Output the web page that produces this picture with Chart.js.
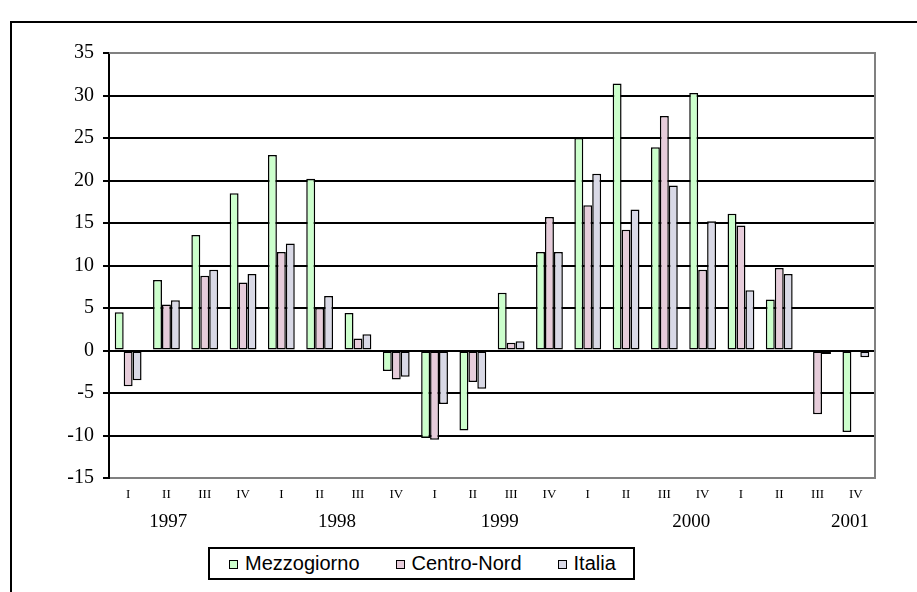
<!DOCTYPE html>
<html>
<head>
<meta charset="utf-8">
<script src="https://cdn.jsdelivr.net/npm/chart.js@4"></script>
<style>
    html, body { margin: 0; padding: 0; background: #fff; overflow: hidden; }
    #wrap { position: relative; width: 917px; height: 592px; }
    #frame {
        position: absolute; left: 10px; top: 21px; width: 1000px; height: 700px;
        border: 2px solid #000; box-sizing: border-box;
    }
    canvas { position: absolute; left: 0; top: 0; }
    #legend {
        position: absolute; left: 208px; top: 547px; width: 427px; height: 33px;
        border: 2px solid #000; box-sizing: border-box; background: #fff;
        font-family: "Liberation Sans", Arial, sans-serif; font-size: 20px; color: #000;
        display: flex; align-items: center; padding-left: 19px;
    }
    .item { display: flex; align-items: center; margin-right: 36px; }
    .item:last-child { margin-right: 0; }
    .swatch { width: 7px; height: 7px; border: 1.5px solid #000; margin-right: 7px; margin-top: 2px; }
</style>
</head>
<body>
<div id="wrap">
    <div id="frame"></div>
    <canvas id="chart" width="917" height="592"></canvas>
    <div id="legend"></div>
</div>
<script>
// quarters 1997 I .. 2001 IV
const quarters = ['I', 'II', 'III', 'IV', 'I', 'II', 'III', 'IV', 'I', 'II', 'III', 'IV',
    'I', 'II', 'III', 'IV', 'I', 'II', 'III', 'IV'];
const years = ['1997', '1998', '1999', '2000', '2001'];
// where each year label sits, in category index units (as in the original)
const yearAt = [1.05, 5.45, 9.7, 14.7, 18.85];

const mezzogiorno = [4.5, 8.3, 13.6, 18.5, 23.0, 20.2, 4.4, -2.4, -10.3, -9.4,
    6.8, 11.6, 25.0, 31.4, 23.9, 30.3, 16.1, 6.0, null, -9.6];
const centroNord = [-4.2, 5.4, 8.8, 8.0, 11.6, 5.0, 1.4, -3.4, -10.5, -3.7,
    0.9, 15.7, 17.1, 14.2, 27.6, 9.5, 14.7, 9.7, -7.5, null];
const italia = [-3.5, 5.9, 9.5, 9.0, 12.6, 6.4, 1.9, -3.1, -6.3, -4.5,
    1.1, 11.6, 20.8, 16.6, 19.4, 15.2, 7.1, 9.0, -0.4, -0.8];

const seriesNames = ['Mezzogiorno', 'Centro-Nord', 'Italia'];
const seriesColors = ['#CCFFCC', '#E6CCDA', '#D9D9E6'];

const serif = "'Liberation Serif', 'Times New Roman', serif";

// gray frame on top/right of the plot area
const plotFrame = {
    id: 'plotFrame',
    beforeDatasetsDraw(chart) {
        const { ctx, chartArea: a } = chart;
        ctx.save();
        ctx.strokeStyle = '#808080';
        ctx.lineWidth = 2;
        ctx.beginPath();
        ctx.moveTo(a.left, a.top);
        ctx.lineTo(a.right, a.top);
        ctx.lineTo(a.right, a.bottom);
        ctx.stroke();
        ctx.restore();
    }
};

// second row of the category axis: years
const yearRow = {
    id: 'yearRow',
    afterDraw(chart) {
        const { ctx, chartArea } = chart;
        const x = chart.scales.x;
        ctx.save();
        ctx.font = '19px ' + serif;
        ctx.fillStyle = '#000';
        ctx.textAlign = 'center';
        ctx.textBaseline = 'middle';
        years.forEach((y, i) => {
            ctx.fillText(y, x.getPixelForValue(yearAt[i]), chartArea.bottom + 44);
        });
        ctx.restore();
    }
};

const datasets = [mezzogiorno, centroNord, italia].map((d, i) => ({
    label: seriesNames[i],
    data: d,
    backgroundColor: seriesColors[i],
    borderColor: '#000',
    borderWidth: 1.5,
    borderSkipped: false,
    categoryPercentage: 0.7,
    barPercentage: 1
}));

new Chart(document.getElementById('chart'), {
    type: 'bar',
    data: { labels: quarters, datasets: datasets },
    plugins: [plotFrame, yearRow],
    options: {
        responsive: false,
        animation: false,
        layout: { padding: { left: 0, top: 53, right: 42, bottom: 54 } },
        plugins: { legend: { display: false }, tooltip: { enabled: false } },
        scales: {
            x: {
                grid: { display: false, drawTicks: false },
                border: { display: true, color: '#808080', width: 2 },
                ticks: { color: '#000', font: { family: serif, size: 13 }, padding: 9, maxRotation: 0, autoSkip: false },
                afterFit: s => { s.height = 60; }
            },
            y: {
                min: -15,
                max: 35,
                ticks: { stepSize: 5, color: '#000', font: { family: serif, size: 20 }, padding: 9 },
                grid: {
                    color: c => (c.tick && c.tick.value === 35) ? '#808080' : '#000',
                    tickColor: '#000',
                    lineWidth: 2,
                    tickLength: 6
                },
                border: { display: true, color: '#000', width: 2 },
                afterFit: s => { s.width = 109; }
            }
        }
    }
});

// legend, as html text
const legend = document.getElementById('legend');
seriesNames.forEach((n, i) => {
    const item = document.createElement('div');
    item.className = 'item';
    item.innerHTML = '<span class="swatch" style="background:' + seriesColors[i] + '"></span><span>' + n + '</span>';
    legend.appendChild(item);
});
</script>
</body>
</html>
